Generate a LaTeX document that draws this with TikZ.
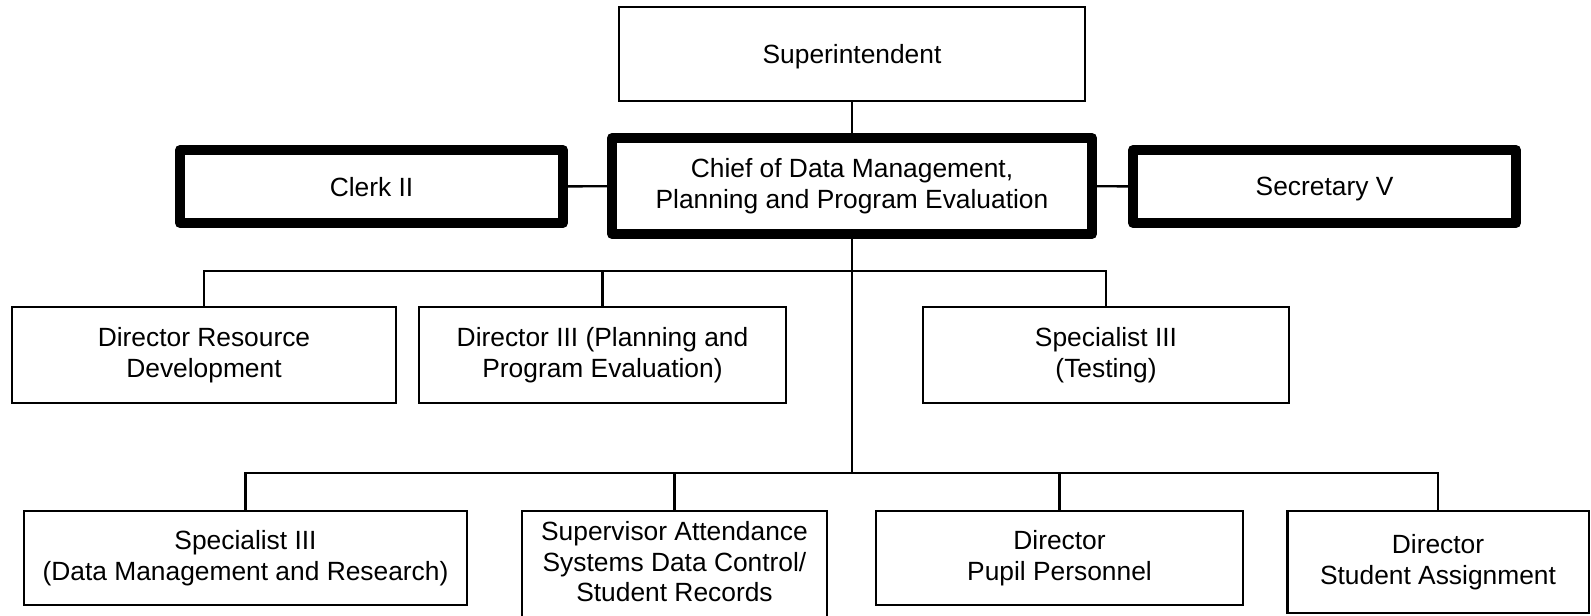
\documentclass[tikz,border=0pt]{standalone}
\usepackage{fontspec}
\setmainfont{Liberation Sans}
\usepackage{tikz}
\usetikzlibrary{positioning,calc}

\begin{document}
\begin{tikzpicture}[
    box/.style={draw,line width=0.7pt,align=center,inner sep=0pt,
      font=\fontsize{7.5}{8.8}\selectfont},
    bigbox/.style={box,line width=2.85pt,line join=round},
    link/.style={line width=0.7pt}]
  \useasboundingbox (0,0) rectangle (15.91,-6.16);
  % top of the chart
  \node[box,minimum width=4.655cm,minimum height=0.935cm,text depth=0pt] (supt) at (8.52,-0.54) {Superintendent};
  \node[bigbox,minimum width=4.80cm,minimum height=0.96cm] (chief) at (8.52,-1.86)
      {Chief of Data Management,\\Planning and Program Evaluation};
  \node[bigbox,minimum width=3.83cm,minimum height=0.73cm,text depth=0pt] (clerk) at (3.715,-1.865) {Clerk II};
  \node[bigbox,minimum width=3.83cm,minimum height=0.73cm,text depth=0pt] (secr) at (13.245,-1.865) {Secretary V};
  % second row
  \node[box,minimum width=3.835cm,minimum height=0.955cm] (resdev) at (2.04,-3.55)
      {Director Resource\\Development};
  \node[box,minimum width=3.665cm,minimum height=0.955cm] (dirplan) at (6.025,-3.55)
      {Director III (Planning and\\Program Evaluation)};
  \node[box,minimum width=3.655cm,minimum height=0.955cm] (testing) at (11.06,-3.55)
      {Specialist III\\(Testing)};
  % third row
  \node[box,minimum width=4.425cm,minimum height=0.935cm] (datamgmt) at (2.455,-5.58)
      {Specialist III\\(Data Management and Research)};
  \node[box,minimum width=3.045cm,inner ysep=0.0975cm,anchor=north] (attend) at (6.745,-5.10)
      {Supervisor Attendance\\Systems Data Control/\\Student Records\rule[-0.3cm]{0pt}{0pt}};
  \node[box,minimum width=3.665cm,minimum height=0.935cm] (pupil) at (10.595,-5.58)
      {Director\\Pupil Personnel};
  \node[box,minimum width=3.015cm,minimum height=1.015cm] (assign) at (14.38,-5.62)
      {Director\\Student Assignment};
  % connectors
  \coordinate (busA) at (8.52,-2.71);
  \coordinate (busB) at (8.52,-4.73);
  \draw[link] (supt) -- (chief);
  \draw[link] (clerk) -- (chief);
  \draw[link] (chief) -- (secr);
  \draw[link] (chief.south) -- (busB);
  \draw[link] (resdev.north) |- (busA) -| (testing.north);
  \draw[link] (dirplan.north) -- (dirplan.north |- busA);
  \draw[link] (datamgmt.north) |- (busB) -| (assign.north);
  \draw[link] (attend.north) -- (attend.north |- busB);
  \draw[link] (pupil.north) -- (pupil.north |- busB);
\end{tikzpicture}
\end{document}
